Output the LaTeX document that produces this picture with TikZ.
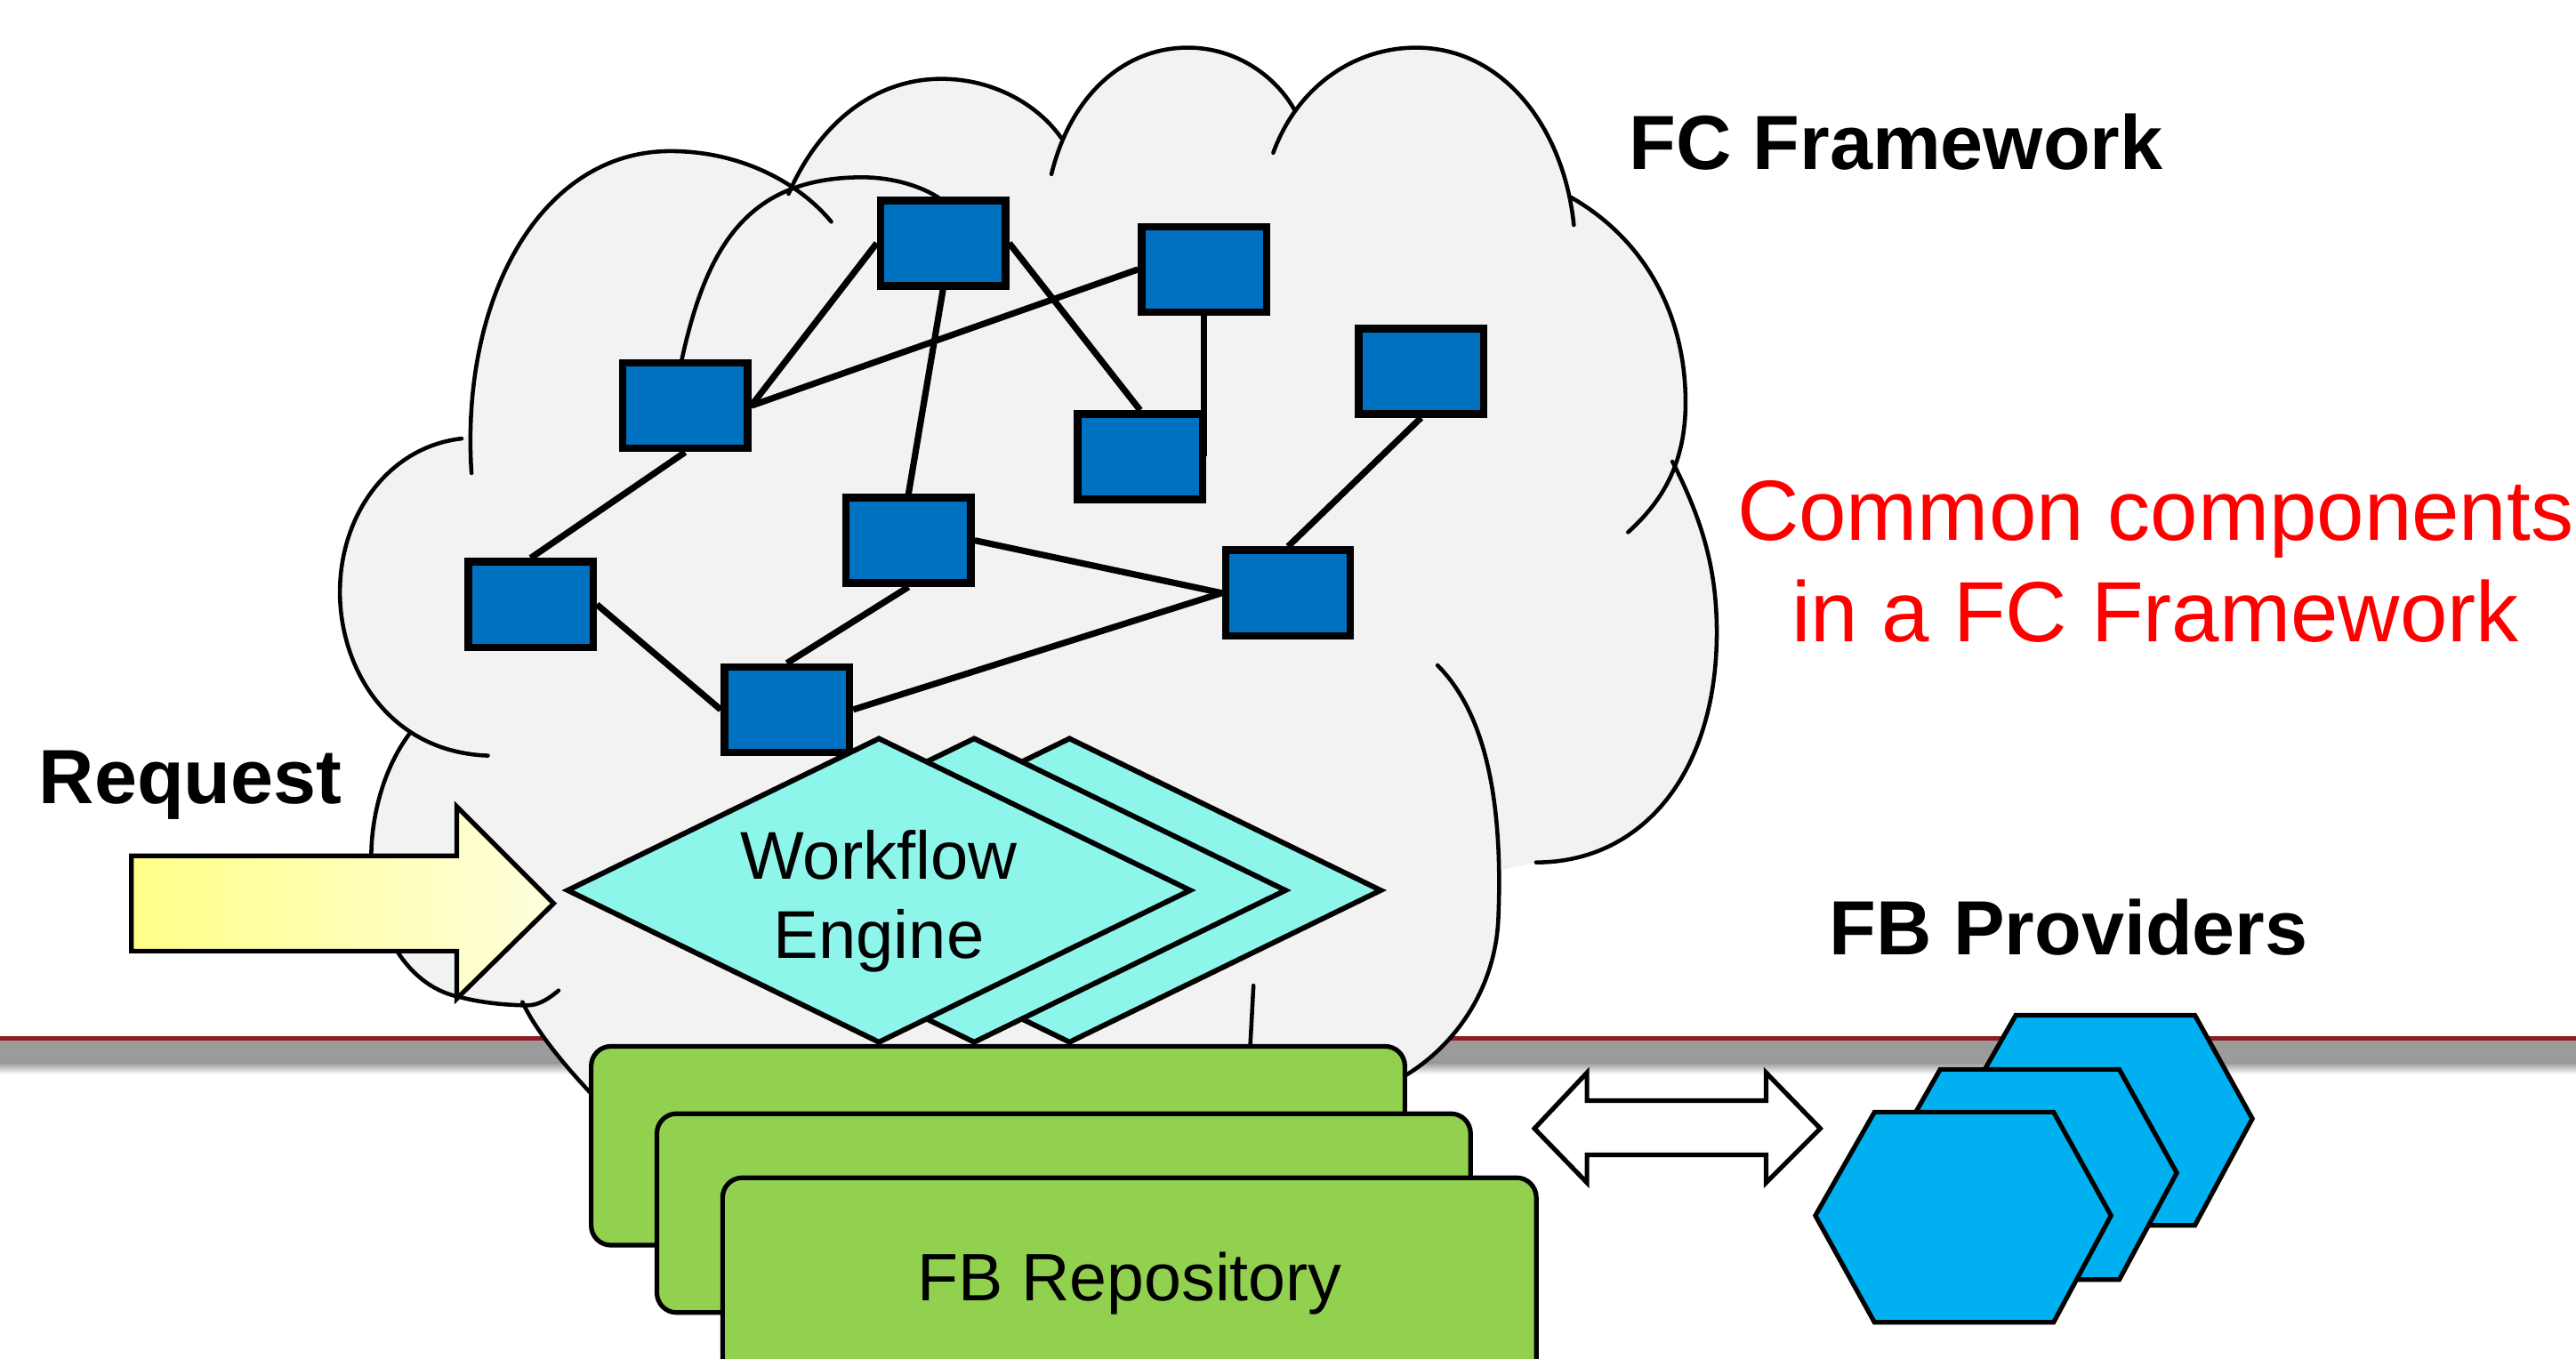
\documentclass[tikz,border=0pt]{standalone}
\usepackage{fontspec}
\setmainfont{Liberation Sans}
\usetikzlibrary{shapes.geometric}

\definecolor{cloudgray}{HTML}{F2F2F2}
\definecolor{compblue}{HTML}{0070C0}
\definecolor{enginecyan}{HTML}{8EF5EA}
\definecolor{repogreen}{HTML}{92D050}
\definecolor{provblue}{HTML}{00B0F0}
\definecolor{linered}{HTML}{8E1B24}
\definecolor{bandgray}{HTML}{9B9B9B}
\definecolor{reqleft}{HTML}{FFFF88}
\definecolor{reqright}{HTML}{FFFFDD}
\definecolor{notered}{HTML}{FF0000}

\begin{document}
\begin{tikzpicture}[
  x=0.01cm, y=-0.01cm,
  cloudline/.style={line width=0.7pt, line cap=round},
  comp/.style={draw, line width=1.3pt, fill=compblue, minimum width=0.76cm, minimum height=0.52cm, inner sep=0pt},
  link/.style={line width=1.1pt},
  engine/.style={draw, diamond, line width=0.9pt, fill=enginecyan, minimum width=3.8cm, minimum height=1.86cm, inner sep=0pt},
  enginetext/.style={font=\fontsize{11.7}{13.7}\selectfont, align=center, inner sep=0pt},
  repo/.style={draw, line width=0.8pt, fill=repogreen, rounded corners=0.12cm, minimum width=4.95cm, minimum height=1.21cm, inner sep=0pt, font=\fontsize{11.6}{13.6}\selectfont},
  provider/.style={draw, line width=0.8pt, fill=provblue},
  block/.style={draw, line width=0.8pt},
  heading/.style={font=\fontsize{13.3}{16}\selectfont\bfseries, inner sep=0pt},
  note/.style={text=notered, align=center, inner sep=0pt, font=\fontsize{14.8}{17.6}\selectfont}
]
\useasboundingbox (0,0) rectangle (1568,827);

\fill[linered] (0,630.7) rectangle (1568,633.5);
\fill[bandgray] (0,633.5) rectangle (1568,647);
\shade[top color=bandgray, bottom color=white] (0,647) rectangle (1568,654);

\def\cloudlobes{
  {(281,267) .. controls (236,272) and (205,315) .. (207,365) .. controls (209,412) and (240,458) .. (297,460)},
  {(249,447) .. controls (232,470) and (226,500) .. (226,521) .. controls (226,560) and (245,600) .. (280,607) .. controls (295,611) and (312,612) .. (321,612) .. controls (328,612) and (334,608) .. (340,603)},
  {(318,610) .. controls (325,625) and (340,645) .. (362,668)},
  {(287,288) .. controls (280,180) and (330,92) .. (408,92) .. controls (452,92) and (487,112) .. (506,135)},
  {(480,118) .. controls (500,72) and (535,48) .. (573,48) .. controls (605,48) and (632,64) .. (646,84)},
  {(640,106) .. controls (652,57) and (685,29) .. (723,29) .. controls (753,29) and (777,47) .. (788,67)},
  {(775,93) .. controls (790,52) and (825,29) .. (862,29) .. controls (915,29) and (952,78) .. (958,137)},
  {(956,120) .. controls (1000,145) and (1026,190) .. (1026,245) .. controls (1026,282) and (1012,305) .. (991,324)},
  {(1018,281) .. controls (1038,320) and (1045,350) .. (1045,385) .. controls (1045,470) and (1000,525) .. (935,525)},
  {(875,405) .. controls (905,435) and (915,490) .. (912,560) .. controls (910,600) and (888,635) .. (855,655)}}

\fill[cloudgray] (362,668) -- (318,610) -- (249,447) -- (281,267) -- (480,118) -- (646,84) -- (788,67)
  -- (958,137) -- (1018,281) -- (935,525) -- (912,530) -- (855,655) -- cycle;
\foreach \lobe in \cloudlobes {\fill[cloudgray] \lobe;}
\foreach \lobe in \cloudlobes {\draw[cloudline] \lobe;}
\draw[cloudline] (415,219) .. controls (430,150) and (455,110) .. (520,108) .. controls (545,107) and (565,115) .. (575,123);
\draw[cloudline] (763,600) -- (761,637);

\node[comp] (c1) at (574,148) {};
\node[comp] (c2) at (733,164) {};
\node[comp] (c3) at (417,247) {};
\node[comp] (c4) at (694,278) {};
\node[comp] (c5) at (865,226) {};
\node[comp] (c6) at (553,329) {};
\node[comp] (c7) at (323,368) {};
\node[comp] (c8) at (784,361) {};
\node[comp] (c9) at (479,432) {};

\draw[link] (c1.west) -- (c3.east);
\draw[link] (c3.east) -- (c2.west);
\draw[link] (c1.south) -- (c6.north);
\draw[link] (c1.east) -- (c4.north);
\draw[link] (c2.south) -- (c2.south |- c4.center);
\draw[link] (c3.south) -- (c7.north);
\draw[link] (c7.east) -- (c9.west);
\draw[link] (c6.south) -- (c9.north);
\draw[link] (c6.east) -- (c8.west);
\draw[link] (c9.east) -- (c8.west);
\draw[link] (c5.south) -- (c8.north);

\draw[block, left color=reqleft, right color=reqright] (80,521) -- (278,521) -- (278,491) -- (337,550)
  -- (278,608) -- (278,579) -- (80,579) -- cycle;

\foreach \idx/\dx in {3/116,2/58,1/0}
  \node[engine] (wf\idx) at (535+\dx,542) {};
\node[enginetext] (wftext) at ([yshift=-0.065cm]wf1.center) {Workflow\\Engine};

\node[repo] (r1) at (607.5,697.5) {};
\node[repo] (r2) at (647.5,738.5) {};
\node[repo, minimum height=1.29cm] (r3) at (687.5,781.5) {FB Repository};

\draw[block, fill=white] (934,687) -- (966,653) -- (966,670) -- (1075,670) -- (1075,653) -- (1108,687)
  -- (1075,720) -- (1075,703) -- (966,703) -- (966,720) -- cycle;

\foreach \dx/\dy in {86/-59,40/-26,0/0}
  \draw[provider] (1105+\dx,740+\dy) -- ++(36,-63) -- ++(109,0) -- ++(35,63) -- ++(-35,65) -- ++(-109,0) -- cycle;

\node[heading, anchor=base west] (fc) at (991,103) {FC Framework};
\node[heading, anchor=base west] (req) at (23,489) {Request};
\node[heading, anchor=base west] (fbp) at (1113,581) {FB Providers};
\node[note] (common) at (1312,342) {Common components\\in a FC Framework};
\end{tikzpicture}
\end{document}
